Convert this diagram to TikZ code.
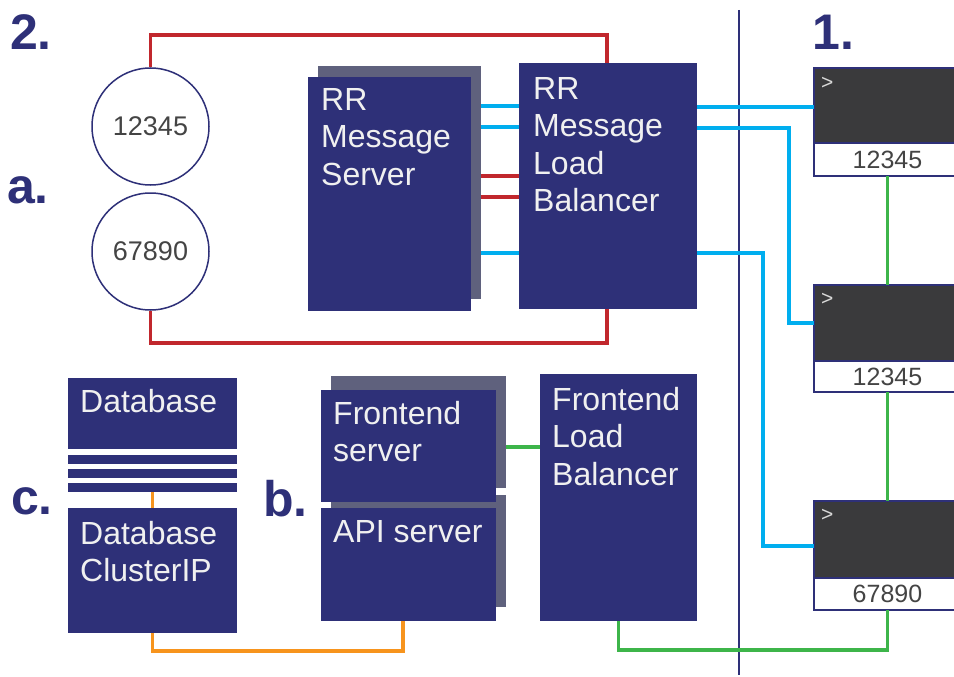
\documentclass[tikz,border=0pt]{standalone}
\usepackage{fontspec}
\setmainfont{Liberation Sans}
\usetikzlibrary{calc}
\definecolor{navy}{HTML}{2E3078}
\definecolor{shade}{HTML}{5F617D}
\definecolor{cblue}{HTML}{00AEEF}
\definecolor{cred}{HTML}{C1272D}
\definecolor{cgreen}{HTML}{3DB54A}
\definecolor{corange}{HTML}{F7941D}
\definecolor{term}{HTML}{3A3A3C}
\definecolor{digit}{HTML}{444444}
\begin{document}
\begin{tikzpicture}[x=1pt,y=-1pt,
  box/.style={fill=navy, draw=none, inner sep=0pt, outer sep=0pt, anchor=north west},
  shadowbox/.style={fill=shade, draw=none, inner sep=0pt, outer sep=0pt, anchor=north west},
  termbox/.style={fill=term, draw=navy, line width=1.5pt, inner sep=0pt, outer sep=0pt, anchor=north west, minimum width=147},
  labbox/.style={fill=white, draw=navy, line width=1.5pt, inner sep=0pt, outer sep=0pt, anchor=north west, minimum width=147, text=digit, font=\fontsize{25}{25}\selectfont},
  txt/.style={text=white!94!black, font=\fontsize{32}{37.5}\selectfont, align=left, inner sep=0pt, anchor=north west},
  port/.style={circle, draw=navy, line width=1.5pt, fill=white, minimum size=117, inner sep=0pt, text=digit, font=\fontsize{27}{27}\selectfont},
  big/.style={text=navy, font=\fontsize{50}{50}\selectfont\bfseries, inner sep=0pt, anchor=base west},
  prompt/.style={text=white!85!black, font=\fontsize{21}{21}\selectfont, inner sep=0pt, anchor=north west},
  rline/.style={draw=cred, line width=3.2pt},
  bline/.style={draw=cblue, line width=3.4pt},
  gline/.style={draw=cgreen, line width=3.2pt},
  oline/.style={draw=corange, line width=3.2pt}]
\useasboundingbox (0,0) rectangle (954,677);
\clip (0,0) rectangle (954,677);

% big labels
\node[big] (l2) at (10,50) {2.};
\node[big] (la) at (7,203) {a.};
\node[big] (l1) at (812,50) {1.};
\node[big] (lc) at (11,514) {c.};
\node[big] (lb) at (263,516) {b.};

% divider
\coordinate (dtop) at (739,10);
\coordinate (dbot) at (739,675);
\draw[navy, line width=1.5pt] (dtop) -- (dbot);

% ports
\node[port] (p1) at (150.5,126.5) {12345};
\node[port] (p2) at (150.5,251.5) {67890};

% RR message server and load balancer
\node[shadowbox, minimum width=163, minimum height=233] (rrmsS) at (318,66) {};
\node[box, minimum width=163, minimum height=234] (rrms) at (308,77) {};
\node[box, minimum width=178, minimum height=246] (rrlb) at (519,63) {};
\node[txt] (rrmsT) at (321,88) {RR\\Message\\Server};
\node[txt] (rrlbT) at (533,77) {RR\\Message\\Load\\Balancer};

% terminals
\node[termbox, minimum height=75] (t1) at (814,68) {};
\node[labbox, minimum height=33] (t1l) at (814,143) {12345};
\node[termbox, minimum height=76] (t2) at (814,285) {};
\node[labbox, minimum height=31] (t2l) at (814,361) {12345};
\node[termbox, minimum height=77] (t3) at (814,501) {};
\node[labbox, minimum height=32] (t3l) at (814,578) {67890};
\node[prompt] (t1p) at (821,77) {>};
\node[prompt] (t2p) at (821,293) {>};
\node[prompt] (t3p) at (821,509) {>};

% frontend / api
\node[shadowbox, minimum width=175, minimum height=112] (fsS) at (331,376) {};
\node[shadowbox, minimum width=175, minimum height=112] (apiS) at (331,495) {};
\node[box, minimum width=175, minimum height=112] (fs) at (321,390) {};
\node[box, minimum width=175, minimum height=113] (api) at (321,508) {};
\node[box, minimum width=157, minimum height=247] (flb) at (540,374) {};
\node[txt] (fsT) at (333,401) {Frontend\\server};
\node[txt] (apiT) at (333,520) {API server};
\node[txt] (flbT) at (552,387) {Frontend\\Load\\Balancer};

% database
\node[box, minimum width=169, minimum height=71] (db) at (68,378) {};
\node[box, minimum width=169, minimum height=9] (s1) at (68,455) {};
\node[box, minimum width=169, minimum height=9] (s2) at (68,469) {};
\node[box, minimum width=169, minimum height=9] (s3) at (68,483) {};
\node[box, minimum width=169, minimum height=125] (dbip) at (68,508) {};
\node[txt] (dbT) at (80,389) {Database};
\node[txt] (dbipT) at (80,521) {Database\\ClusterIP};

% red connectors
\coordinate (rtop) at (607,35);
\coordinate (rbot) at (607,343);
\draw[rline] (p1.north) |- (rtop) -- (rtop |- rrlb.north);
\draw[rline] (p2.south) |- (rbot) -- (rbot |- rrlb.south);
\draw[rline] (rrmsS.east |- 0,176) -- (rrlb.west |- 0,176);
\draw[rline] (rrmsS.east |- 0,197) -- (rrlb.west |- 0,197);

% blue connectors
\draw[bline] (rrmsS.east |- 0,106) -- (rrlb.west |- 0,106);
\draw[bline] (rrmsS.east |- 0,127) -- (rrlb.west |- 0,127);
\draw[bline] (rrmsS.east |- 0,253) -- (rrlb.west |- 0,253);
\draw[bline] (rrlb.east |- 0,107) -- (t1.west |- 0,107);
\draw[bline] (rrlb.east |- 0,128) -- (789,128) -- (789,323) -- (t2.west |- 0,323);
\draw[bline] (rrlb.east |- 0,253) -- (763,253) -- (763,546) -- (t3.west |- 0,546);

% green connectors
\draw[gline] (t1l.south) -- (t2.north);
\draw[gline] (t2l.south) -- (t3.north);
\draw[gline] (flb.south) |- (0,650 -| t3l.south) -- (t3l.south);
\draw[gline] (fsS.east |- 0,447) -- (flb.west |- 0,447);

% orange connectors
\draw[oline] (s3.south) -- (dbip.north);
\coordinate (apiB) at (403,621);
\draw[oline] (dbip.south) |- (403,651) -- (apiB);
\end{tikzpicture}
\end{document}
